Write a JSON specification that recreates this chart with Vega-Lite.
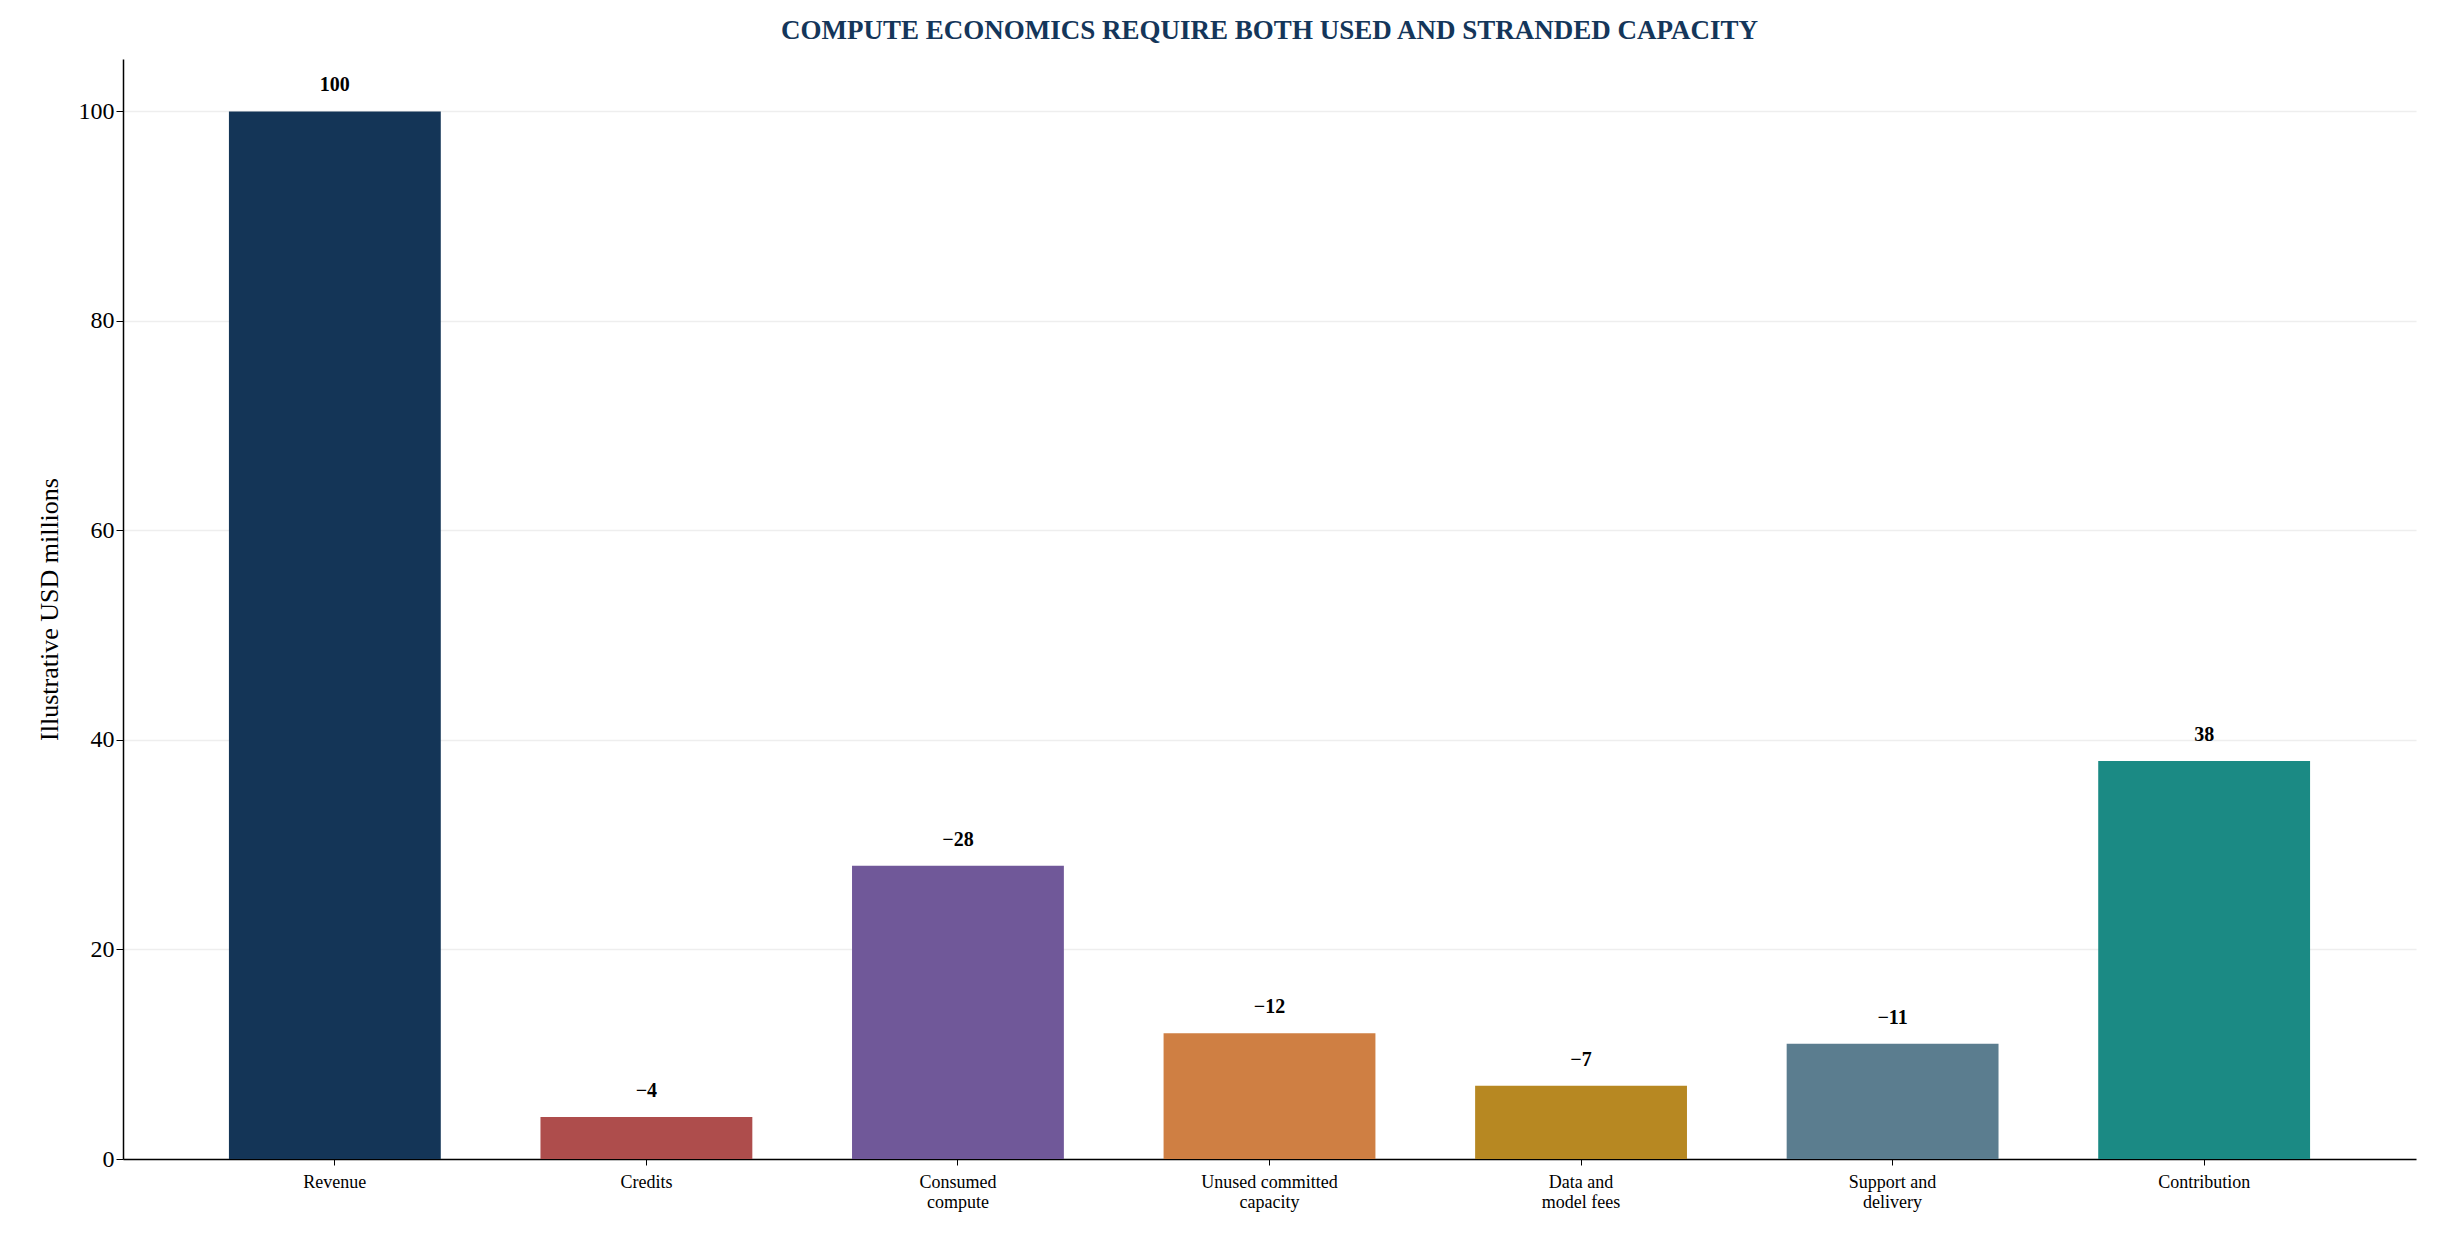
{
  "$schema": "https://vega.github.io/schema/vega-lite/v6.json",
  "width": 2293,
  "height": 1100,
  "autosize": "none",
  "padding": {"left": 123, "top": 59, "right": 21, "bottom": 88},
  "background": "white",
  "config": {
    "font": "Liberation Serif",
    "view": {"stroke": null},
    "axis": {"labelFont": "Liberation Serif", "titleFont": "Liberation Serif", "labelColor": "black", "titleColor": "black", "domainColor": "black", "tickColor": "black"}
  },
  "title": {
    "text": "COMPUTE ECONOMICS REQUIRE BOTH USED AND STRANDED CAPACITY",
    "font": "Liberation Serif", "fontSize": 27, "fontWeight": "bold", "color": "#14365a", "offset": 14
  },
  "data": {
    "values": [
      {"item": "Revenue", "value": 100, "label": "100", "color": "#143557"},
      {"item": "Credits", "value": 4, "label": "−4", "color": "#ae4d4c"},
      {"item": "Consumed|compute", "value": 28, "label": "−28", "color": "#705899"},
      {"item": "Unused committed|capacity", "value": 12, "label": "−12", "color": "#cf7f43"},
      {"item": "Data and|model fees", "value": 7, "label": "−7", "color": "#b78822"},
      {"item": "Support and|delivery", "value": 11, "label": "−11", "color": "#5b7d8f"},
      {"item": "Contribution", "value": 38, "label": "38", "color": "#1b8a84"}
    ]
  },
  "encoding": {
    "x": {
      "field": "item", "type": "nominal", "sort": null,
      "scale": {"paddingInner": 0.32, "paddingOuter": 0.34},
      "axis": {"title": null, "labelAngle": 0, "labelFontSize": 18, "labelExpr": "split(datum.label, '|')", "labelPadding": 8, "tickSize": 6, "domainWidth": 1.5}
    },
    "y": {
      "field": "value", "type": "quantitative",
      "scale": {"domain": [0, 105], "nice": false},
      "axis": {"title": "Illustrative USD millions", "titleFontSize": 26, "titleFontWeight": "normal", "labelFontSize": 24, "values": [0, 20, 40, 60, 80, 100], "gridColor": "#eeeeee", "gridWidth": 1.5, "tickSize": 7, "domainWidth": 1.5, "titlePadding": 16}
    }
  },
  "layer": [
    {"mark": {"type": "bar"}, "encoding": {"color": {"field": "color", "type": "nominal", "scale": null}}},
    {"mark": {"type": "text", "baseline": "bottom", "dy": -16, "fontSize": 20, "fontWeight": "bold", "color": "black"}, "encoding": {"text": {"field": "label"}}}
  ]
}
